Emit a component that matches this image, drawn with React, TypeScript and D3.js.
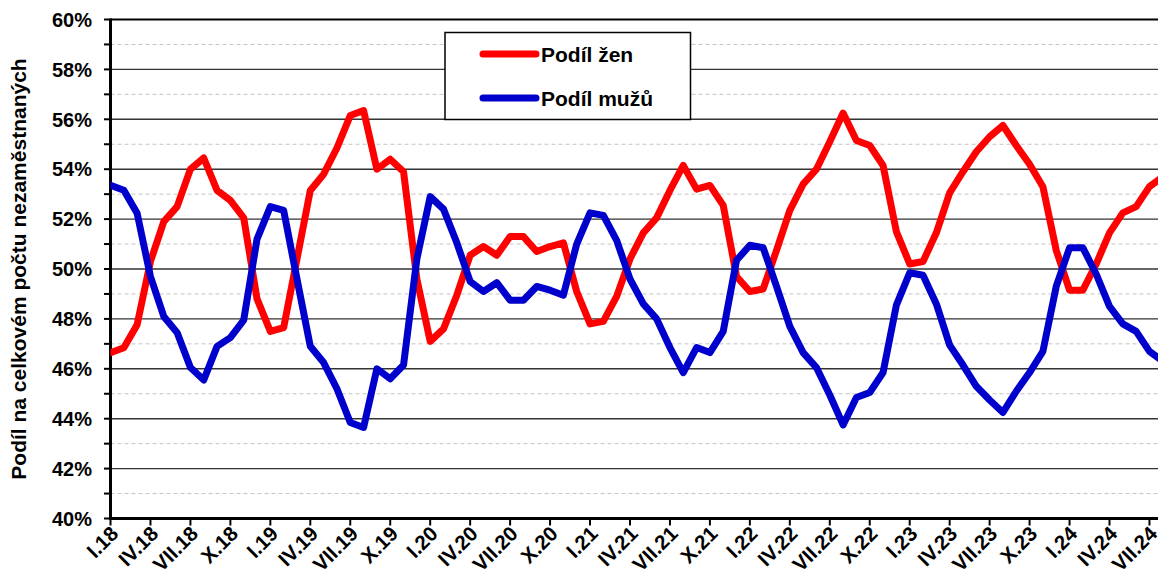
import React from "react";
import * as d3 from "d3";

const tickLabels = [
  "I.18", "IV.18", "VII.18", "X.18",
  "I.19", "IV.19", "VII.19", "X.19",
  "I.20", "IV.20", "VII.20", "X.20",
  "I.21", "IV.21", "VII.21", "X.21",
  "I.22", "IV.22", "VII.22", "X.22",
  "I.23", "IV.23", "VII.23", "X.23",
  "I.24", "IV.24", "VII.24",
];

// monthly values, I.18 .. VIII.24
const podilZen = [
  46.64, 46.84, 47.77, 50.3, 51.9, 52.5, 54.0, 54.45, 53.15, 52.75, 52.05, 48.8,
  47.5, 47.65, 50.4, 53.15, 53.8, 54.85, 56.15, 56.35, 54.0, 54.4, 53.9, 49.6,
  47.1, 47.6, 48.95, 50.55, 50.9, 50.55, 51.3, 51.3, 50.7, 50.9, 51.05, 49.1,
  47.8, 47.9, 48.9, 50.4, 51.45, 52.05, 53.15, 54.15, 53.2, 53.35, 52.55, 49.7,
  49.1, 49.2, 50.75, 52.35, 53.4, 54.0, 55.1, 56.25, 55.15, 54.95, 54.15, 51.5,
  50.2, 50.3, 51.45, 53.05, 53.9, 54.7, 55.3, 55.75, 54.95, 54.2, 53.3, 50.75,
  49.15, 49.15, 50.2, 51.45, 52.25, 52.5, 53.3, 53.7,
];
const podilMuzu = [
  53.36, 53.16, 52.23, 49.7, 48.1, 47.45, 46.05, 45.55, 46.9, 47.25, 47.95, 51.2,
  52.5, 52.35, 49.6, 46.9, 46.25, 45.2, 43.85, 43.65, 46.0, 45.6, 46.15, 50.4,
  52.9, 52.4, 51.05, 49.5, 49.1, 49.45, 48.75, 48.75, 49.3, 49.15, 48.95, 51.0,
  52.25, 52.15, 51.15, 49.6, 48.6, 48.0, 46.85, 45.85, 46.85, 46.65, 47.5, 50.35,
  50.95, 50.85, 49.3, 47.7, 46.65, 46.05, 44.95, 43.75, 44.85, 45.05, 45.85, 48.55,
  49.85, 49.75, 48.6, 46.95, 46.15, 45.3, 44.75, 44.25, 45.1, 45.85, 46.7, 49.3,
  50.85, 50.85, 49.8, 48.5, 47.8, 47.5, 46.7, 46.3,
];
const yTicks = [40, 42, 44, 46, 48, 50, 52, 54, 56, 58, 60];
const seriesNames = ["Podíl žen", "Podíl mužů"];
const seriesColors = ["#ff0000", "#0000cc"];
const yTitle = "Podíl na celkovém počtu nezaměstnaných";

const W = 1158;
const H = 579;
const FONT = "Arial, 'Liberation Sans', sans-serif";

export default function App() {
  const left = 110.5;
  const step = 13.32;
  const n = podilZen.length;
  const x = d3.scaleLinear().domain([0, n - 1]).range([left, left + (n - 1) * step]);
  const y = d3.scaleLinear().domain([40, 60]).range([518.5, 19.5]);
  const right = x(n - 1);
  const line = d3
    .line<number>()
    .x((_, i) => x(i))
    .y((d) => y(d));

  const minor = d3.range(41, 60, 2);
  const allTicks = d3.range(40, 61, 1);
  const xTickIdx = tickLabels.map((_, i) => i * 3);

  return (
    <svg
      width={W}
      height={H}
      style={{ position: "absolute", left: 0, top: 0, background: "#fff" }}
      fontFamily={FONT}
    >
      <defs>
        <clipPath id="plot">
          <rect x={left} y={0} width={right - left + 10} height={y(40)} />
        </clipPath>
      </defs>
      {/* dashed minor gridlines */}
      {minor.map((v) => (
        <line
          key={"m" + v}
          x1={left}
          x2={right}
          y1={y(v)}
          y2={y(v)}
          stroke="#c4c4c4"
          strokeWidth={1}
          strokeDasharray="4 3"
        />
      ))}
      {/* solid major gridlines */}
      {yTicks
        .filter((v) => v > 40)
        .map((v) => (
          <line
            key={"g" + v}
            x1={left}
            x2={right}
            y1={y(v)}
            y2={y(v)}
            stroke={v === 60 ? "#000" : "#333"}
            strokeWidth={v === 60 ? 2 : 1.4}
          />
        ))}
      {/* y ticks */}
      {allTicks.map((v) => (
        <line key={"yt" + v} x1={104} x2={left} y1={y(v)} y2={y(v)} stroke="#000" strokeWidth={2} />
      ))}
      {/* x ticks */}
      {xTickIdx.map((i) => (
        <line key={"xt" + i} x1={x(i)} x2={x(i)} y1={y(40)} y2={y(40) + 7} stroke="#000" strokeWidth={2} />
      ))}
      {/* axes */}
      <line x1={left} x2={left} y1={y(60) - 1} y2={y(40) + 1.5} stroke="#000" strokeWidth={3} />
      <line x1={left - 1.5} x2={right} y1={y(40)} y2={y(40)} stroke="#000" strokeWidth={3} />

      {/* y labels */}
      {yTicks.map((v) => (
        <text
          key={"yl" + v}
          x={92}
          y={y(v)}
          dy="0.36em"
          textAnchor="end"
          fontSize={20}
          fontWeight="bold"
          fill="#000"
        >
          {v}%
        </text>
      ))}
      {/* x labels */}
      {tickLabels.map((t, k) => (
        <text
          key={"xl" + t}
          transform={`translate(${x(k * 3) + 9},${535}) rotate(-45)`}
          textAnchor="end"
          fontSize={20.5}
          fontWeight="bold"
          fill="#000"
        >
          {t}
        </text>
      ))}
      {/* y title */}
      <text
        transform={`translate(26,269) rotate(-90)`}
        textAnchor="middle"
        fontSize={21}
        fontWeight="bold"
        fill="#000"
      >
        {yTitle}
      </text>

      {/* series */}
      <g clipPath="url(#plot)">
        {[podilZen, podilMuzu].map((s, k) => (
          <path
            key={"s" + k}
            d={line(s) || ""}
            fill="none"
            stroke={seriesColors[k]}
            strokeWidth={7}
            strokeLinejoin="round"
            strokeLinecap="round"
          />
        ))}
      </g>

      {/* legend */}
      <rect x={445} y={32.5} width={245.5} height={87} fill="#fff" stroke="#000" strokeWidth={1.5} />
      {seriesNames.map((nm, k) => (
        <g key={"lg" + k}>
          <line
            x1={483}
            x2={536}
            y1={54 + k * 44}
            y2={54 + k * 44}
            stroke={seriesColors[k]}
            strokeWidth={7}
            strokeLinecap="round"
          />
          <text x={541} y={54 + k * 44} dy="0.36em" fontSize={21} fontWeight="bold" fill="#000">
            {nm}
          </text>
        </g>
      ))}
    </svg>
  );
}
